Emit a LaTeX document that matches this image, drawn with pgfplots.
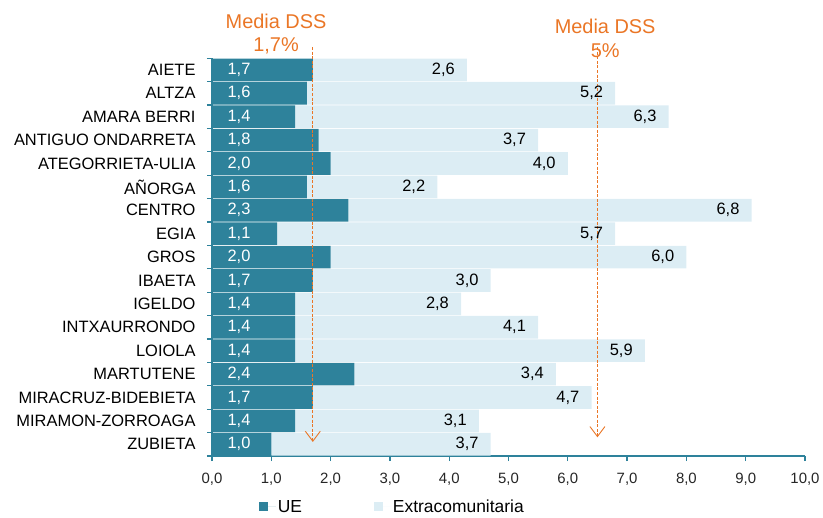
\documentclass[border=0pt]{standalone}
\usepackage{fontspec}
\setmainfont{Liberation Sans}
\usepackage{pgfplots}
\pgfplotsset{compat=1.18}
\usepackage{pgfplotstable}
\usetikzlibrary{arrows.meta}
\definecolor{ueblue}{RGB}{46,130,155}
\definecolor{extblue}{RGB}{220,237,244}
\definecolor{dssorange}{RGB}{234,118,38}

\pgfplotstableread{
idx ue  ext uel extl
16  1.7 2.6 1,7 2,6
15  1.6 5.2 1,6 5,2
14  1.4 6.3 1,4 6,3
13  1.8 3.7 1,8 3,7
12  2.0 4.0 2,0 4,0
11  1.6 2.2 1,6 2,2
10  2.3 6.8 2,3 6,8
9   1.1 5.7 1,1 5,7
8   2.0 6.0 2,0 6,0
7   1.7 3.0 1,7 3,0
6   1.4 2.8 1,4 2,8
5   1.4 4.1 1,4 4,1
4   1.4 5.9 1,4 5,9
3   2.4 3.4 2,4 3,4
2   1.7 4.7 1,7 4,7
1   1.4 3.1 1,4 3,1
0   1.0 3.7 1,0 3,7
}\datatable

\pgfplotsset{
  base/.style={
    x=59.3bp, y=23.4bp,
    xmin=0, xmax=10, ymin=-0.5, ymax=16.5,
    at={(0,0)}, anchor=south west,
    clip=false,
  }
}

\begin{document}
\begin{tikzpicture}
\begin{axis}[
  base,
  xbar stacked,
  bar width=22.6bp,
  axis x line*=bottom,
  axis y line*=left,
  axis line style={ueblue, line width=1.3pt},
  tick align=outside,
  major tick length=5bp,
  xtick={0,1,...,10},
  xtick style={ueblue, line width=1.3pt},
  xticklabel style={font=\fontsize{15}{18}\selectfont, text=black!85, yshift=-9bp},
  /pgf/number format/.cd, use comma, fixed, fixed zerofill, precision=1, assume math mode=true,
  /pgfplots/.cd,
  ytick={0,1,...,16},
  yticklabels={ZUBIETA,MIRAMON-ZORROAGA,MIRACRUZ-BIDEBIETA,MARTUTENE,LOIOLA,INTXAURRONDO,IGELDO,IBAETA,GROS,EGIA,CENTRO,AÑORGA,ATEGORRIETA-ULIA,ANTIGUO ONDARRETA,AMARA BERRI,ALTZA,AIETE},
  ytick style={draw=none},
  yticklabel style={font=\fontsize{16.5}{19}\selectfont, text=black, xshift=-8bp},
  legend style={at={(0.304,-0.128)}, anchor=center, draw=none, fill=none,
    legend columns=2, font=\fontsize{17.5}{20}\selectfont,
    /tikz/every even column/.append style={column sep=70bp}},
  legend image code/.code={\fill[#1] (0bp,-4.5bp) rectangle (9bp,4.5bp); \path (9bp,0bp) -- (17bp,0bp);},
]
\addplot[fill=ueblue, draw=none] table[x=ue, y=idx] {\datatable};
\addlegendentry{UE}
\addplot[fill=extblue, draw=none] table[x=ext, y=idx] {\datatable};
\addlegendentry{Extracomunitaria}
\end{axis}

\begin{axis}[
  base,
  axis x line=none,
  axis y line*=left,
  axis line style={ueblue, line width=1.3pt},
  tick align=outside,
  major tick length=5bp,
  xtick=\empty,
  ytick={-0.5,0.5,...,16.5},
  yticklabels={},
  ytick style={ueblue, line width=1.3pt},
]
\addplot[draw=none, nodes near coords, point meta=explicit symbolic,
  nodes near coords style={anchor=center, text=white, font=\fontsize{16.5}{19}\selectfont}]
  table[x expr=0.455, y=idx, meta=uel] {\datatable};
\addplot[draw=none, nodes near coords, point meta=explicit symbolic,
  nodes near coords style={anchor=east, xshift=-12bp, inner sep=0pt, text=black, font=\fontsize{16.5}{19}\selectfont}]
  table[x expr=\thisrow{ue}+\thisrow{ext}, y=idx, meta=extl] {\datatable};

\draw[dssorange, line width=0.9pt, dash pattern=on 3bp off 1.6bp, -{Straight Barb[length=10bp, width=15bp, line width=0.9pt]}]
  (axis cs:1.7,16.98) -- (axis cs:1.7,0.1);
\draw[dssorange, line width=0.9pt, dash pattern=on 3bp off 1.6bp, -{Straight Barb[length=10bp, width=15bp, line width=0.9pt]}]
  (axis cs:6.5,16.98) -- (axis cs:6.5,0.3);
\node[text=dssorange, align=center, font=\fontsize{20}{24}\selectfont] at (axis cs:1.08,17.53) {Media DSS\\1,7\%};
\node[text=dssorange, align=center, font=\fontsize{20}{24}\selectfont] at (axis cs:6.63,17.36) {Media DSS\\5\%};
\end{axis}
\pgfresetboundingbox
\path (-212bp,-62bp) rectangle (611bp,456bp);
\end{tikzpicture}
\end{document}
